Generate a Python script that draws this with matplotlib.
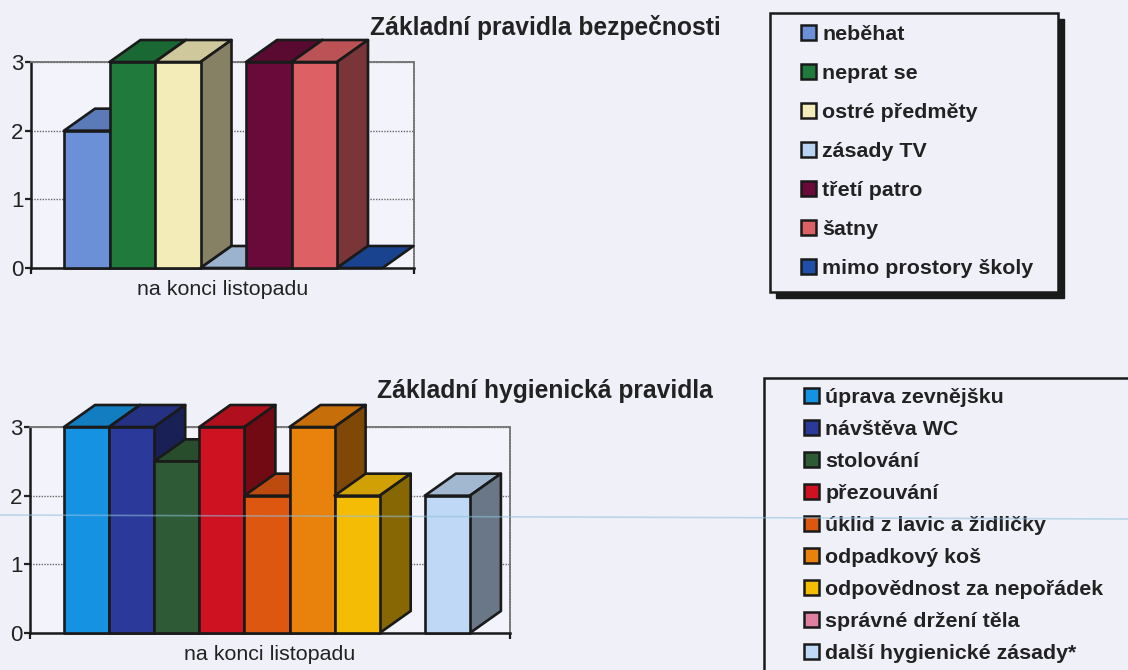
# -*- coding: utf-8 -*-
import numpy as np
import matplotlib
matplotlib.use("Agg")
import matplotlib.pyplot as plt
from matplotlib.lines import Line2D
from matplotlib.patches import Patch, Polygon, Rectangle

W, H = 1128, 670
BG = "#f0f0f9"
EDGE = "#1a1a1a"
plt.rcParams["font.family"] = ["Liberation Sans", "DejaVu Sans"]

# data
x_label = "na konci listopadu"
y_ticks = [0, 1, 2, 3]

title1 = "Základní pravidla bezpečnosti"
labels1 = ["neběhat", "neprat se", "ostré předměty", "zásady TV",
           "třetí patro", "šatny", "mimo prostory školy"]
values1 = [2, 3, 3, 0, 3, 3, 0]
colors1 = ["#6b90d8", "#1f7a3c", "#f3ebb8", "#b8d3f2", "#6a0a3a", "#dc6064", "#1f4fa8"]

title2 = "Základní hygienická pravidla"
labels2 = ["úprava zevnějšku", "návštěva WC", "stolování", "přezouvání",
           "úklid z lavic a židličky", "odpadkový koš", "odpovědnost za nepořádek",
           "správné držení těla", "další hygienické zásady*"]
values2 = [3, 3, 2.5, 3, 2, 3, 2, np.nan, 2]
colors2 = ["#1593e2", "#2b3a9a", "#2e5a35", "#cf1222", "#de5710", "#e8820c", "#f5bc05",
           "#e07fa0", "#bfd8f5"]


def shade(color, k):
    return tuple(c * k for c in matplotlib.colors.to_rgb(color))


def px_rect(left, top, right, bottom):
    return [left / W, 1 - bottom / H, (right - left) / W, (bottom - top) / H]


def bars_3d(ax, values, colors, start, bar_w, px_unit):
    # depth of the fake 3d box, in data units
    dx = 31 / bar_w
    dy = 22 / px_unit
    x0 = start / bar_w
    for i, (v, c) in enumerate(zip(values, colors)):
        if np.isnan(v):
            continue
        x = x0 + i
        top = [(x, v), (x + 1, v), (x + 1 + dx, v + dy), (x + dx, v + dy)]
        side = [(x + 1, 0), (x + 1 + dx, dy), (x + 1 + dx, v + dy), (x + 1, v)]
        front = [(x, 0), (x + 1, 0), (x + 1, v), (x, v)]
        shapes = [(top, 0.85)]
        if v > 0:
            shapes += [(side, 0.55), (front, 1)]
        for pts, k in shapes:
            ax.add_patch(Polygon(pts, closed=True, fc=shade(c, k), ec=EDGE, lw=1.9,
                                 joinstyle="round", clip_on=False, zorder=3 + i))


def draw_chart(fig, box, values, colors, start, bar_w):
    ax = fig.add_axes(px_rect(*box))
    ax.set_facecolor("#f3f3fb")
    width = box[2] - box[0]
    px_unit = (box[3] - box[1]) / 3
    ax.set_xlim(0, width / bar_w)
    ax.set_ylim(0, 3)
    ax.yaxis.grid(True, ls=(0, (1, 1)), lw=1, color="#666666")
    ax.set_axisbelow(True)
    for s in ["top", "right"]:
        ax.spines[s].set_linewidth(1.3)
        ax.spines[s].set_linestyle((0, (1, 0.6)))
        ax.spines[s].set_color("#777777")
    for s in ["left", "bottom"]:
        ax.spines[s].set_linewidth(1.8)
        ax.spines[s].set_color(EDGE)
    ax.set_yticks(y_ticks)
    ax.set_xticks([0, width / bar_w])
    ax.set_xticklabels(["", ""])
    ax.tick_params(axis="y", labelsize=16, length=4, width=1.6, pad=1.5, colors="#222222")
    ax.tick_params(axis="x", length=4, width=1.6, color=EDGE)
    ax.set_xlabel(x_label, fontsize=15.4, color="#222222", labelpad=1)
    bars_3d(ax, values, colors, start, bar_w, px_unit)
    return ax


def draw_legend(fig, labels, colors, left, top, spacing):
    handles = [Patch(fc=c, ec=EDGE, lw=1.8) for c in colors]
    fig.legend(handles, labels, loc="upper left", bbox_to_anchor=(left / W, 1 - top / H),
               frameon=False, borderpad=0, borderaxespad=0, handlelength=0.7, handleheight=0.7,
               handletextpad=0.3, labelspacing=spacing,
               prop={"weight": "bold", "size": 15.4}, labelcolor="#222222")


fig = plt.figure(figsize=(W / 100, H / 100), dpi=100, facecolor=BG)

draw_chart(fig, (31, 62, 414, 268), values1, colors1, 33, 45.5)
draw_chart(fig, (30, 427, 510, 633), values2, colors2, 34, 45.1)

fig.text(545 / W, 1 - 27 / H, title1, ha="center", va="center", fontsize=17.7,
         fontweight="bold", color="#222222")
fig.text(545 / W, 1 - 391 / H, title2, ha="center", va="center", fontsize=17.7,
         fontweight="bold", color="#222222")

# legend frames
fig.add_artist(Rectangle((776 / W, 1 - 298 / H), 288 / W, 279 / H, transform=fig.transFigure,
                         fc=EDGE, ec=EDGE, zorder=1))
fig.add_artist(Rectangle((770 / W, 1 - 292 / H), 288 / W, 279 / H, transform=fig.transFigure,
                         fc=BG, ec=EDGE, lw=1.8, zorder=1.5))
fig.add_artist(Rectangle((764 / W, -20 / H), 400 / W, 312 / H, transform=fig.transFigure,
                         fc=BG, ec=EDGE, lw=1.8, zorder=1.5))
draw_legend(fig, labels1, colors1, 801, 25, 0.935)
draw_legend(fig, labels2, colors2, 804, 388, 0.61)

# scanner line crossing the page
fig.add_artist(Line2D([0, 1], [1 - 515 / H, 1 - 519 / H], transform=fig.transFigure,
                      color="#8fc0dc", lw=1.2, alpha=0.55, zorder=20))

fig.savefig("out.png", dpi=100, facecolor=BG)
